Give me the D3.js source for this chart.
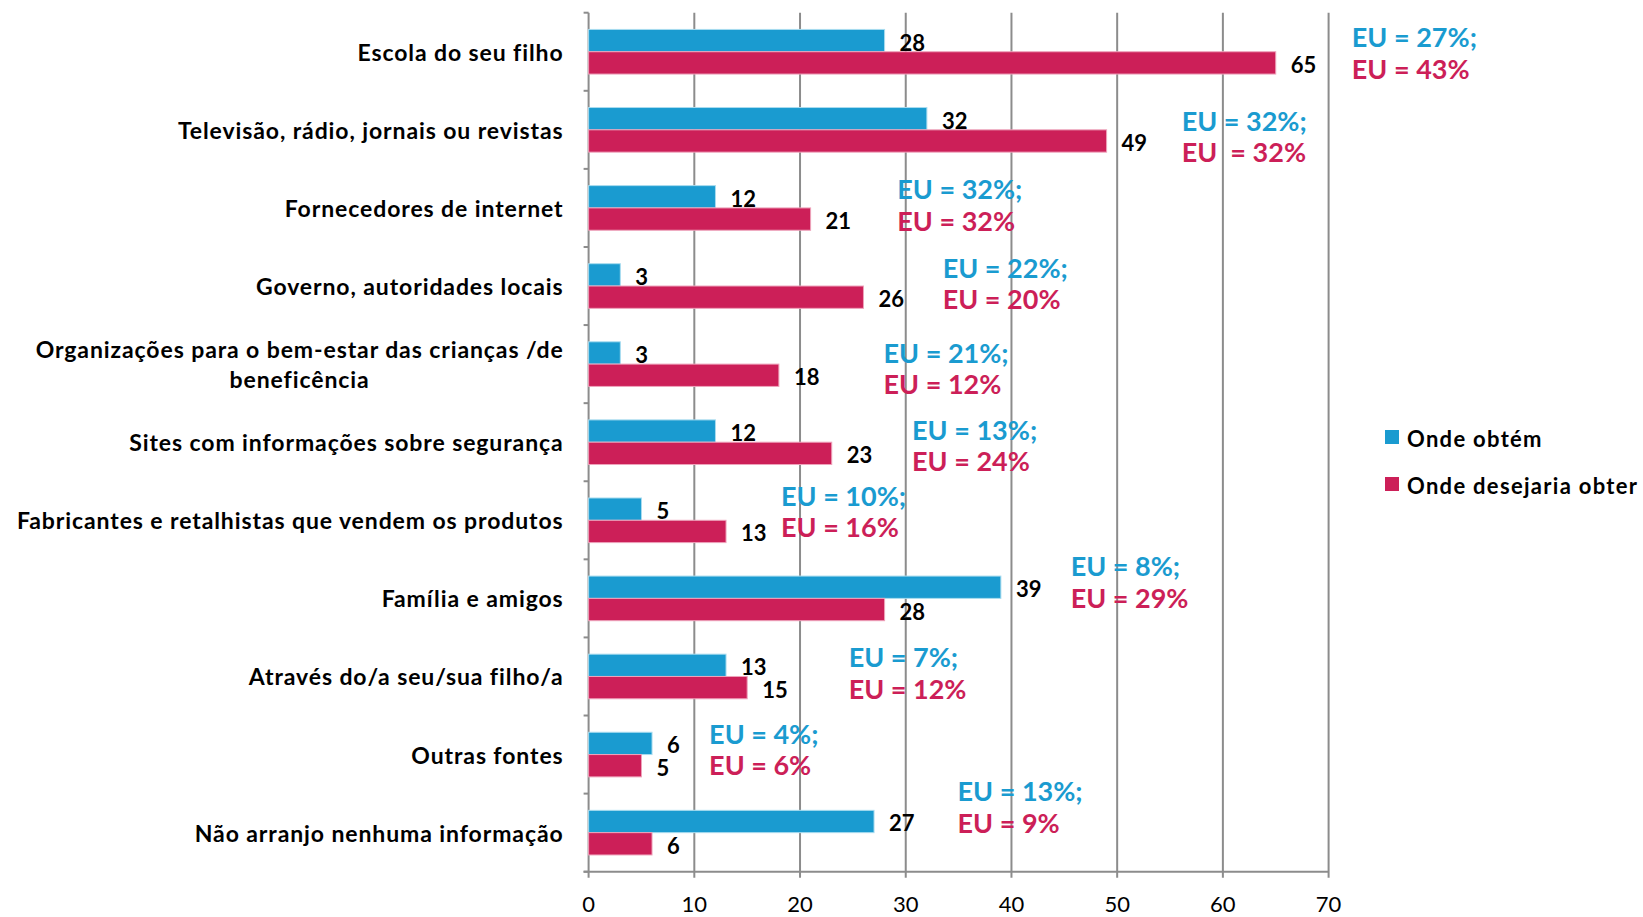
<!DOCTYPE html>
<html>
<head>
<meta charset="utf-8">
<script src="https://cdn.jsdelivr.net/npm/d3@7"></script>
<style>
  body { margin: 0; background: #fff; }
  text { font-family: Lato, "Open Sans", sans-serif; }
</style>
</head>
<body>
<svg id="chart" width="1643" height="917"></svg>
<script>
// categories (top to bottom)
var categories = [
  "Escola do seu filho",
  "Televisão, rádio, jornais ou revistas",
  "Fornecedores de internet",
  "Governo, autoridades locais",
  "Organizações para o bem-estar das crianças /de|beneficência",
  "Sites com informações sobre segurança",
  "Fabricantes e retalhistas que vendem os produtos",
  "Família e amigos",
  "Através do/a seu/sua filho/a",
  "Outras fontes",
  "Não arranjo nenhuma informação"
]
var seriesNames = ["Onde obtém", "Onde desejaria obter"]
var obtem    = [28, 32, 12, 3, 3, 12, 5, 39, 13, 6, 27]
var desejaria = [65, 49, 21, 26, 18, 23, 13, 28, 15, 5, 6]
// EU comparison values
var euObtem    = [27, 32, 32, 22, 21, 13, 10, 8, 7, 4, 13]
var euDesejaria = [43, 32, 32, 20, 12, 24, 16, 29, 12, 6, 9]
var xTicks = [0, 10, 20, 30, 40, 50, 60, 70]

// where each EU note sits: x in value units, dy from band centre (px)
var euPlace = [
  [72.2, -15], [56.1, -9.3], [29.2, -19.3], [33.5, -18.9], [27.9, -12],
  [30.6, -12.6], [18.2, -24.7], [45.6, -32.6], [24.6, -19.5], [11.4, -21], [34.9, -41.7]
]

var blue = "#1a9bd0", red = "#cc1f58", grid = "#8c8c8c"

var svg = d3.select("#chart")

var x = d3.scaleLinear().domain([0, 70]).range([588.6, 1328.6])
var y = d3.scaleBand().domain(d3.range(categories.length)).range([12.7, 871.7])
var ySub = d3.scaleBand().domain([0, 1]).range([0, y.bandwidth()]).paddingOuter(0.75)

var rows = categories.map(function(c, i){
  return {cat: c, i: i, vals: [obtem[i], desejaria[i]], eu: [euObtem[i], euDesejaria[i]]}
})

// gridlines
svg.append("g").selectAll("line")
  .data(xTicks)
  .enter().append("line")
  .attr("x1", function(d){ return x(d) }).attr("x2", function(d){ return x(d) })
  .attr("y1", y.range()[0]).attr("y2", y.range()[1] + 6)
  .style("stroke", grid).style("stroke-width", 2)

// left axis ticks
svg.append("g").selectAll("line")
  .data(d3.range(categories.length + 1))
  .enter().append("line")
  .attr("x1", x(0) - 5).attr("x2", x(0))
  .attr("y1", function(d){ return y.range()[0] + d * y.step() })
  .attr("y2", function(d){ return y.range()[0] + d * y.step() })
  .style("stroke", grid).style("stroke-width", 2)

// bottom axis line
svg.append("line")
  .attr("x1", x(0) - 5).attr("x2", x(70))
  .attr("y1", y.range()[1]).attr("y2", y.range()[1])
  .style("stroke", grid).style("stroke-width", 2)

svg.append("g").selectAll("text")
  .data(xTicks)
  .enter().append("text")
  .text(function(d){ return d })
  .attr("x", function(d){ return x(d) })
  .attr("y", 912)
  .attr("text-anchor", "middle")
  .style("font-size", "22px")
  .style("fill", "#000")

// bars
var groups = svg.append("g").selectAll("g")
  .data(rows)
  .enter().append("g")
  .attr("transform", function(d){ return "translate(0," + y(d.i) + ")" })

groups.selectAll("rect")
  .data(function(d){ return d.vals })
  .enter().append("rect")
  .attr("x", x(0))
  .attr("y", function(d, j){ return ySub(j) })
  .attr("width", function(d){ return x(d) - x(0) })
  .attr("height", ySub.bandwidth())
  .style("fill", function(d, j){ return j == 0 ? blue : red })
  .style("stroke", function(d, j){ return j == 0 ? "#a9dcef" : "#eea3bb" })
  .style("stroke-width", 1)

groups.selectAll("text.val")
  .data(function(d){ return d.vals })
  .enter().append("text")
  .attr("class", "val")
  .text(function(d){ return d })
  .attr("x", function(d){ return x(d) + 15 })
  .attr("y", function(d, j){ return ySub(j) + ySub.bandwidth() / 2 + 1.5 })
  .attr("dominant-baseline", "central")
  .style("font-size", "22px").style("font-weight", "bold")
  .style("fill", "#000")

// category labels
groups.each(function(d){
  var g = d3.select(this)
  var lines = d.cat.split("|")
  var cy = y.bandwidth() / 2
  var first = g.append("text")
    .text(lines[0])
    .attr("x", 563.6)
    .attr("y", cy - (lines.length - 1) * 15)
    .attr("text-anchor", "end")
    .attr("dominant-baseline", "central")
    .style("font-size", "23px").style("font-weight", "bold")
    .style("letter-spacing", "0.9px")
  if (lines.length > 1) {
    var w = first.node().getComputedTextLength()
    g.append("text")
      .text(lines[1])
      .attr("x", 563.6 - w / 2)
      .attr("y", cy + 15)
      .attr("text-anchor", "middle")
      .attr("dominant-baseline", "central")
      .style("font-size", "23px").style("font-weight", "bold")
      .style("letter-spacing", "0.9px")
  }
})

// EU notes
groups.each(function(d){
  var g = d3.select(this)
  var p = euPlace[d.i]
  var cy = y.bandwidth() / 2 + p[1]
  g.append("text")
    .text("EU = " + d.eu[0] + "%;")
    .attr("x", x(p[0])).attr("y", cy)
    .attr("dominant-baseline", "central")
    .style("font-size", "27px").style("font-weight", "bold")
    .style("fill", blue)
  g.append("text")
    .text((d.i == 1 ? "EU  = " : "EU = ") + d.eu[1] + "%")
    .attr("x", x(p[0])).attr("y", cy + 31.4)
    .attr("dominant-baseline", "central")
    .style("white-space", "pre")
    .style("font-size", "27px").style("font-weight", "bold")
    .style("fill", red)
})

// legend
var legend = svg.append("g").selectAll("g")
  .data(seriesNames)
  .enter().append("g")
  .attr("transform", function(d, i){ return "translate(1385," + (437 + i * 47) + ")" })
legend.append("rect")
  .attr("x", 0).attr("y", -7).attr("width", 14).attr("height", 14)
  .style("fill", function(d, i){ return i == 0 ? blue : red })
legend.append("text")
  .text(function(d){ return d })
  .attr("x", 22).attr("y", 1)
  .attr("dominant-baseline", "central")
  .style("font-size", "22px").style("font-weight", "bold")
  .style("letter-spacing", "1.3px")
</script>
</body>
</html>
